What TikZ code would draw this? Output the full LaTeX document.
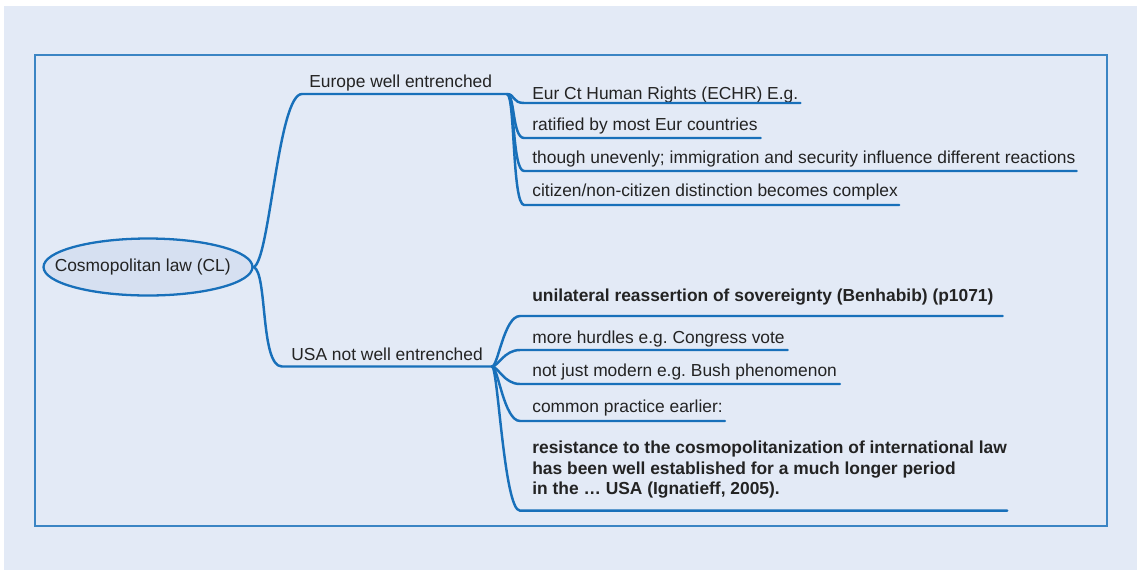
\documentclass[tikz,border=0pt]{standalone}
\usepackage{fontspec}
\setmainfont{Liberation Sans}
\usetikzlibrary{shapes.geometric}
\definecolor{mapblue}{RGB}{24,112,186}
\definecolor{mapback}{RGB}{227,234,246}
\definecolor{mapfill}{RGB}{214,224,241}
\definecolor{maptext}{RGB}{35,35,35}
\frenchspacing
\tikzstyle{link} = [draw=mapblue, line width=1.4pt, line cap=round]
\tikzstyle{topic} = [ellipse, draw=mapblue, line width=1.3pt, fill=mapfill,
                     inner xsep=-13pt, inner ysep=0pt, text=maptext,
                     minimum width=4.18cm, minimum height=1.14cm]
\tikzstyle{branch} = [anchor=south west, inner sep=0pt, text depth=3.4pt, text=maptext]
\tikzstyle{leaf} = [anchor=south west, inner sep=0pt, text depth=4pt, text=maptext]
\tikzstyle{heavy} = [font=\fontsize{9.9}{11.8}\selectfont\bfseries]

\begin{document}
\begin{tikzpicture}[x=0.02cm, y=-0.02cm, font=\fontsize{9.9}{11.8}\selectfont]
% page and frame
\fill[white] (0,0) rectangle (1141,572);
\fill[mapback] (4,6) rectangle (1137,570);
\draw[mapblue!85, line width=0.8pt] (35,55) rectangle (1107,526);

% central topic
\node[topic] (cl) at (148,267) {Cosmopolitan law (CL)\hspace*{6pt}};

% Europe branch
\coordinate (eu-in) at (302,94);
\coordinate (eu-out) at (507,94);
\node[branch] (europe) at (309,94) {Europe well entrenched};
\draw[link] (cl.east) .. controls +(16,-5) and +(-24,0) .. (eu-in) -- (eu-out);

\node[leaf, text depth=2pt] (echr) at (532,103) {Eur Ct Human Rights (ECHR) E.g.};
\node[leaf] (ratified) at (532,138) {ratified by most Eur countries};
\node[leaf] (uneven) at (532,171) {though unevenly; immigration and security influence different reactions};
\node[leaf, text depth=4.5pt] (citizen) at (532,205) {citizen/non-citizen distinction becomes complex};

\draw[link] (eu-out) .. controls +(8,0) and +(-12,0) .. ([xshift=-4.5pt]echr.south west) -- ([xshift=1pt]echr.south east);
\draw[link] (eu-out) .. controls +(8,0) and +(-12,0) .. ([xshift=-4.5pt]ratified.south west) -- ([xshift=1.5pt]ratified.south east);
\draw[link] (eu-out) .. controls +(8,0) and +(-12,0) .. ([xshift=-4.5pt]uneven.south west) -- ([xshift=0.5pt]uneven.south east);
\draw[link] (eu-out) .. controls +(8,0) and +(-12,0) .. ([xshift=-4.5pt]citizen.south west) -- ([xshift=0.5pt]citizen.south east);

% USA branch
\coordinate (usa-in) at (282,366.5);
\coordinate (usa-out) at (492,366.5);
\node[branch] (usa) at (291,366.5) {USA not well entrenched};
\draw[link] (cl.east) .. controls +(14,5) and +(-22,0) .. (usa-in) -- (usa-out);

\node[leaf, heavy, text depth=8pt] (sovereignty) at (532,316) {unilateral reassertion of sovereignty (Benhabib) (p1071)};
\node[leaf, text depth=3.4pt] (hurdles) at (532,350) {more hurdles e.g. Congress vote};
\node[leaf] (modern) at (532,384) {not just modern e.g. Bush phenomenon};
\node[leaf, text depth=4.5pt] (earlier) at (532,421) {common practice earlier:};
\node[leaf, heavy, align=left, text depth=8.8pt] (resistance) at (532,510.7) {resistance to the cosmopolitanization of international law\\has been well established for a much longer period\\in the … USA (Ignatieff, 2005).};

\draw[link] (usa-out) .. controls +(6,0) and +(-16,0) .. ([xshift=-6.8pt]sovereignty.south west) -- ([xshift=5pt]sovereignty.south east);
\draw[link] (usa-out) .. controls +(6,0) and +(-16,0) .. ([xshift=-6.8pt]hurdles.south west) -- ([xshift=1.5pt]hurdles.south east);
\draw[link] (usa-out) .. controls +(6,0) and +(-16,0) .. ([xshift=-6.8pt]modern.south west) -- ([xshift=1.5pt]modern.south east);
\draw[link] (usa-out) .. controls +(6,0) and +(-16,0) .. ([xshift=-6.8pt]earlier.south west) -- ([xshift=1pt]earlier.south east);
\draw[link] (usa-out) .. controls +(6,0) and +(-16,0) .. ([xshift=-6.8pt]resistance.south west) -- ([xshift=0pt]resistance.south east);
\end{tikzpicture}
\end{document}
